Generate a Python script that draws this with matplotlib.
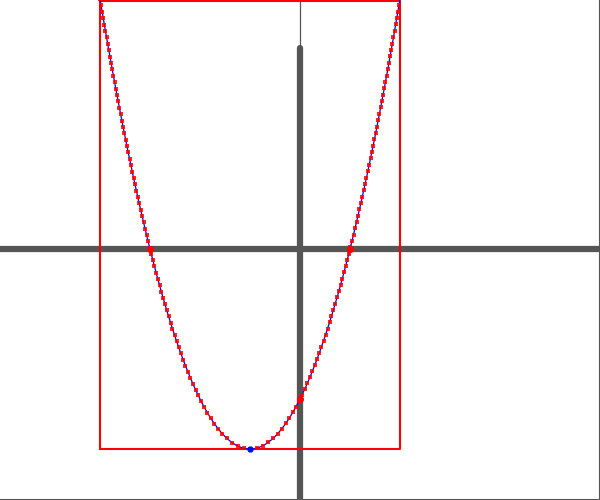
import matplotlib
matplotlib.use("Agg")
import matplotlib.pyplot as plt
import numpy as np

# parabola y = x^2 + 2x - 3 (50 px per unit)
coeffs = [1, 2, -3]
x_range = [-4, 2]
roots = [-3, 1]
y_intercept = [0, -3]
vertex = [-1, -4]
box_x = [-4, 2]
box_y = [-4, 4.96]
axis_top = 4.02

fig = plt.figure(figsize=(6, 5), dpi=100)
ax = fig.add_axes([0, 0, 1, 1])
ax.set_xlim(-6, 6)
ax.set_ylim(-5.02, 4.98)
ax.set_xticks([])
ax.set_yticks([])
for side in ["left", "top"]:
    ax.spines[side].set_visible(False)
for side in ["right", "bottom"]:
    ax.spines[side].set_color("#555555")
    ax.spines[side].set_linewidth(1.5)

# coordinate axes
ax.axhline(0, color="#555555", lw=4.5, zorder=1)
ax.plot([0, 0], [-5.1, axis_top], color="#555555", lw=4.5, solid_capstyle="round", zorder=1)
ax.plot([0, 0], [axis_top, 5.1], color="#555555", lw=0.9, zorder=1)

# bounding box
ax.plot([box_x[0], box_x[1], box_x[1], box_x[0], box_x[0]],
        [box_y[0], box_y[0], box_y[1], box_y[1], box_y[0]],
        color="red", lw=1.5, zorder=2)

# curve
xs = np.linspace(x_range[0], x_range[1], 400)
ys = np.polyval(coeffs, xs)
ax.plot(xs, ys, color="blue", lw=0.9, zorder=3)

# sample dots roughly evenly along the curve
seg = np.hypot(np.diff(xs), np.diff(ys))
s = np.concatenate([[0], np.cumsum(seg)])
targets = np.arange(0, s[-1], 0.13)
dx = np.interp(targets, s, xs)
dy = np.polyval(coeffs, dx)
ax.plot(dx, dy, "s", color="red", ms=2.6, mew=0, alpha=0.85, zorder=4)

ax.plot(roots, [0, 0], "o", color="red", ms=4, zorder=5)
ax.plot([y_intercept[0]], [y_intercept[1]], "o", color="red", ms=4, zorder=5)
ax.plot([vertex[0]], [vertex[1]], "o", color="blue", ms=3.5, zorder=5)

fig.savefig("out.png", dpi=100)
